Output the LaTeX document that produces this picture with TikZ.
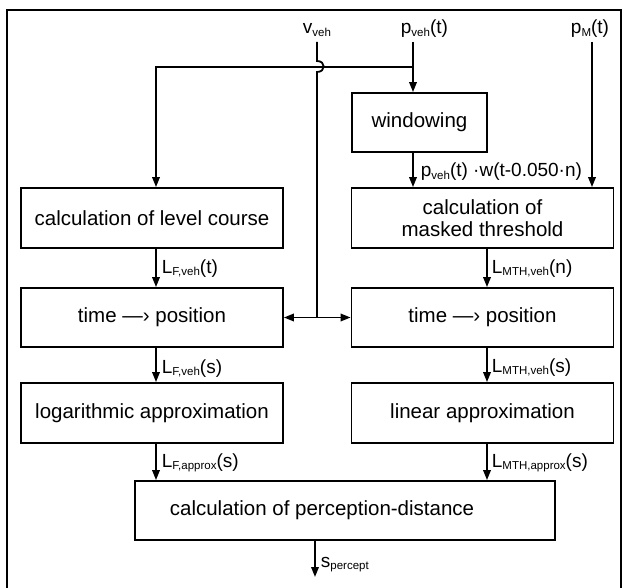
\documentclass[tikz,border=0pt]{standalone}
\usepackage{fontspec}
\setmainfont{Liberation Sans}
\usetikzlibrary{arrows.meta}
\newcommand\lsub[1]{\raisebox{-2.5pt}{\fontsize{11.5}{12}\selectfont #1}}
\begin{document}
\begin{tikzpicture}[x=1pt,y=-1pt, line width=1.8pt,
  box/.style={draw, rectangle, inner sep=0pt, font=\fontsize{20.5}{22}\selectfont, align=center},
  wbox/.style={box, minimum width=262pt, minimum height=60pt},
  lbl/.style={inner sep=0pt, font=\fontsize{19}{20}\selectfont},
  arr/.style={-{Triangle[length=10pt,width=7.5pt]}},
  darr/.style={{Triangle[length=10pt,width=7.5pt]}-{Triangle[length=10pt,width=7.5pt]}}
]
\useasboundingbox (0,0) rectangle (624,588);
\draw (7,10) rectangle (621,600);

% boxes
\node[box, minimum width=135pt, minimum height=59pt] (win) at (419.5,122.5) {windowing};
\node[wbox] (lvl) at (152,218) {calculation of level course};
\node[wbox] (mth) at (482.5,218) {calculation of\\masked threshold};
\node[wbox, minimum height=59pt] (tp1) at (152,317.5) {time —› position};
\node[wbox, minimum height=59pt] (tp2) at (482.5,317.5) {time —› position};
\node[wbox] (log) at (152,413) {logarithmic approximation};
\node[wbox] (lin) at (482.5,413) {linear approximation};
\node[box, minimum width=420pt, minimum height=59pt] (per) at (345,510.5) {calculation of perception-distance\hspace*{46pt}};

% input labels
\node[lbl, anchor=base] (vlab) at (317,34) {v\lsub{veh}};
\node[lbl, anchor=base west] (plab) at (400,34) {p\lsub{veh}(t)};
\node[lbl, anchor=base] (mlab) at (590,34) {p\lsub{M}(t)};

% column coordinates
\coordinate (vv) at (317,42);
\coordinate (pv) at (413,42);
\coordinate (pm) at (592,42);
\coordinate (br) at (413,67);
\coordinate (cL) at (156,0);
\coordinate (cR) at (487,0);
\coordinate (sout) at (315,577);

% v_veh line with hop
\draw (vv) -- (317,61) .. controls (326,61) and (326,72) .. (317,72) -- (tp1.east -| vv);
\draw[darr] (tp1.east) -- (tp2.west);

% p_veh
\draw[arr] (pv) -- (win.north -| pv);
\draw[arr] (br) -| (lvl.north -| cL);
\draw[arr] (pm) -- (mth.north -| pm);
\draw[arr] (win.south -| pv) -- (mth.north -| pv);

% left column
\draw[arr] (lvl.south -| cL) -- (tp1.north -| cL);
\draw[arr] (tp1.south -| cL) -- (log.north -| cL);
\draw[arr] (log.south -| cL) -- (per.north -| cL);

% right column
\draw[arr] (mth.south -| cR) -- (tp2.north -| cR);
\draw[arr] (tp2.south -| cR) -- (lin.north -| cR);
\draw[arr] (lin.south -| cR) -- (per.north -| cR);

% output
\draw[arr] (per.south -| sout) -- (sout);

% connector labels
\node[lbl, anchor=base west] (lw) at (420,177) {p\lsub{veh}(t) ·w(t-0.050·n)};
\node[lbl, anchor=base west] (l1) at (161,273) {L\lsub{F,veh}(t)};
\node[lbl, anchor=base west] (l2) at (161,373) {L\lsub{F,veh}(s)};
\node[lbl, anchor=base west] (l3) at (161,467) {L\lsub{F,approx}(s)};
\node[lbl, anchor=base west] (r1) at (491,273) {L\lsub{MTH,veh}(n)};
\node[lbl, anchor=base west] (r2) at (491,372) {L\lsub{MTH,veh}(s)};
\node[lbl, anchor=base west] (r3) at (491,467) {L\lsub{MTH,approx}(s)};
\node[lbl, anchor=base west] (so) at (320,567) {s\lsub{percept}};
\end{tikzpicture}
\end{document}
